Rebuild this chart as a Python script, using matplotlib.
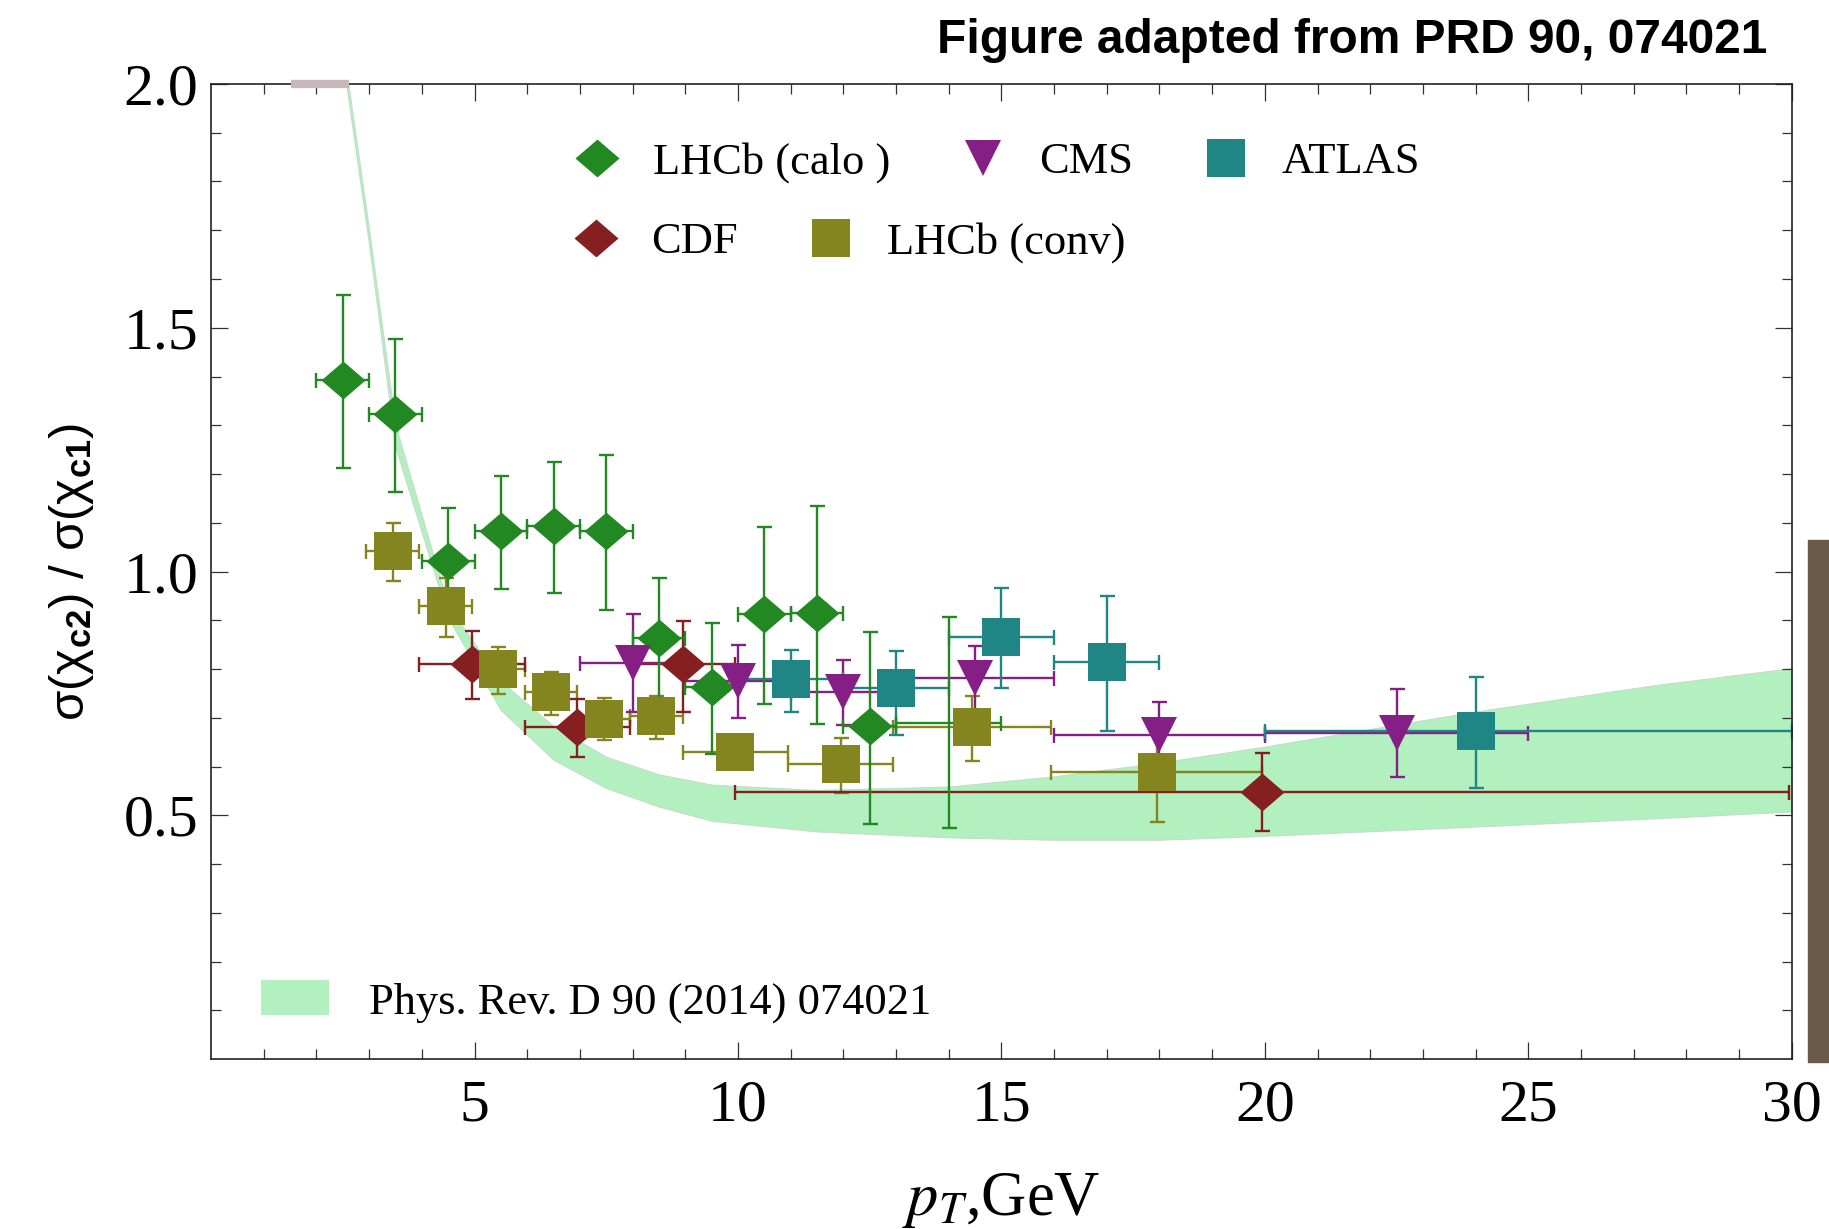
import matplotlib
matplotlib.use("Agg")
import matplotlib.pyplot as plt
import numpy as np
from matplotlib.lines import Line2D
from matplotlib.patches import Patch, Rectangle

plt.rcParams["font.family"] = ["Liberation Serif", "DejaVu Serif"]
plt.rcParams["mathtext.rm"] = "Liberation Sans"
plt.rcParams["mathtext.bf"] = "Liberation Sans:bold"
plt.rcParams["mathtext.it"] = "Liberation Sans:italic"

# LHCb (calo) - bins de 1 GeV
calo_x = [2.5, 3.5, 4.5, 5.5, 6.5, 7.5, 8.5, 9.5, 10.5, 11.5, 12.5]
calo_y = [1.393, 1.323, 1.022, 1.083, 1.094, 1.083, 0.863, 0.764, 0.913, 0.914, 0.683]
calo_ylo = [1.213, 1.164, 0.915, 0.964, 0.957, 0.921, 0.738, 0.625, 0.728, 0.687, 0.483]
calo_yhi = [1.568, 1.477, 1.130, 1.196, 1.224, 1.240, 0.987, 0.895, 1.092, 1.134, 0.877]
calo_xlo = [2.0, 3.0, 4.0, 5.0, 6.0, 7.0, 8.0, 9.0, 10.0, 11.0, 12.0]
calo_xhi = [3.0, 4.0, 5.0, 6.0, 7.0, 8.0, 9.0, 10.0, 11.0, 12.0, 13.0]
# le point 13-15 n'a pas de marqueur dans la figure
calo_hidden_x = [14.0]
calo_hidden_y = [0.690]
calo_hidden_ylo = [0.474]
calo_hidden_yhi = [0.906]
calo_hidden_xlo = [13.0]
calo_hidden_xhi = [15.0]

# CDF
cdf_x = [4.95, 6.95, 8.95, 19.95]
cdf_y = [0.811, 0.682, 0.810, 0.548]
cdf_ylo = [0.739, 0.620, 0.712, 0.468]
cdf_yhi = [0.878, 0.739, 0.899, 0.627]
cdf_xlo = [3.95, 5.95, 7.95, 9.95]
cdf_xhi = [5.95, 7.95, 9.95, 29.95]

# LHCb (conv)
conv_x = [3.45, 4.45, 5.45, 6.45, 7.45, 8.45, 9.95, 11.95, 14.45, 17.95]
conv_y = [1.043, 0.930, 0.801, 0.752, 0.698, 0.704, 0.630, 0.606, 0.681, 0.588]
conv_ylo = [0.980, 0.866, 0.749, 0.705, 0.655, 0.657, 0.600, 0.545, 0.611, 0.487]
conv_yhi = [1.100, 0.986, 0.845, 0.793, 0.741, 0.745, 0.660, 0.659, 0.745, 0.679]
conv_xlo = [2.95, 3.95, 4.95, 5.95, 6.95, 7.95, 8.95, 10.95, 12.95, 15.95]
conv_xhi = [3.95, 4.95, 5.95, 6.95, 7.95, 8.95, 10.95, 12.95, 15.95, 19.95]

# CMS
cms_x = [8.0, 10.0, 12.0, 14.5, 18.0, 22.5]
cms_y = [0.812, 0.775, 0.752, 0.781, 0.665, 0.668]
cms_ylo = [0.711, 0.699, 0.685, 0.715, 0.600, 0.578]
cms_yhi = [0.912, 0.849, 0.819, 0.847, 0.732, 0.759]
cms_xlo = [7.0, 9.0, 11.0, 13.0, 16.0, 20.0]
cms_xhi = [9.0, 11.0, 13.0, 16.0, 20.0, 25.0]

# ATLAS
atlas_x = [11.0, 13.0, 15.0, 17.0, 24.0]
atlas_y = [0.780, 0.762, 0.866, 0.815, 0.673]
atlas_ylo = [0.711, 0.665, 0.761, 0.672, 0.556]
atlas_yhi = [0.839, 0.838, 0.967, 0.950, 0.784]
atlas_xlo = [10.0, 12.0, 14.0, 16.0, 20.0]
atlas_xhi = [12.0, 14.0, 16.0, 18.0, 30.0]

# bande theorique PRD 90, 074021
band_x = [2.5, 3.0, 3.5, 4.5, 5.5, 6.5, 7.5, 8.5, 9.5, 11.5, 14.0, 16.0, 18.0, 20.0, 24.0, 27.4, 30.0]
band_lo = [2.05, 1.67, 1.255, 0.905, 0.716, 0.614, 0.556, 0.518, 0.489, 0.467, 0.455, 0.450, 0.450, 0.458, 0.477, 0.494, 0.508]
band_hi = [2.08, 1.70, 1.300, 0.930, 0.775, 0.683, 0.620, 0.584, 0.563, 0.552, 0.559, 0.580, 0.608, 0.641, 0.713, 0.767, 0.802]

# petite tache grise en haut (artefact de la figure d'origine)
smudge_x = [1.51, 2.62]
smudge_y = [2.0, 2.0]

C_CALO = "#228822"
C_CDF = "#861f1f"
C_CONV = "#85851f"
C_CMS = "#851f85"
C_ATLAS = "#1f8585"
C_BAND = "#b3f0c0"

DIAMOND = [(0, 0.86), (1.0, 0), (0, -0.86), (-1.0, 0), (0, 0.86)]
MS_D = 31.7
MS_S = 27.0
MS_V = 26.6

fig = plt.figure(figsize=(18.29, 12.29), dpi=100)
ax = fig.add_axes([0.1154, 0.1382, 0.8642, 0.7935])

ax.fill_between(band_x, band_lo, band_hi, facecolor=C_BAND, edgecolor="#c4dcc8",
                linewidth=0.8, zorder=1)
ax.plot(smudge_x, smudge_y, color="#c9b8b9", lw=6, solid_capstyle="butt",
        clip_on=False, zorder=4)


def errs(x, y, xlo, xhi, ylo, yhi):
    x = np.array(x)
    y = np.array(y)
    xe = [x - np.array(xlo), np.array(xhi) - x]
    ye = [y - np.array(ylo), np.array(yhi) - y]
    return xe, ye


eb = dict(fmt="none", elinewidth=1.7, capsize=5.4, capthick=1.7, zorder=2)

series = [
    (conv_x, conv_y, conv_xlo, conv_xhi, conv_ylo, conv_yhi, C_CONV),
    (cdf_x, cdf_y, cdf_xlo, cdf_xhi, cdf_ylo, cdf_yhi, C_CDF),
    (cms_x, cms_y, cms_xlo, cms_xhi, cms_ylo, cms_yhi, C_CMS),
    (atlas_x, atlas_y, atlas_xlo, atlas_xhi, atlas_ylo, atlas_yhi, C_ATLAS),
    (calo_x, calo_y, calo_xlo, calo_xhi, calo_ylo, calo_yhi, C_CALO),
    (calo_hidden_x, calo_hidden_y, calo_hidden_xlo, calo_hidden_xhi,
     calo_hidden_ylo, calo_hidden_yhi, C_CALO),
]
for sx, sy, sxlo, sxhi, sylo, syhi, col in series:
    xe, ye = errs(sx, sy, sxlo, sxhi, sylo, syhi)
    ax.errorbar(sx, sy, xerr=xe, yerr=ye, ecolor=col, **eb)

# marqueurs par-dessus toutes les barres d'erreur
ax.plot(calo_x, calo_y, ls="none", marker=DIAMOND, ms=MS_D, color=C_CALO, mew=0, zorder=3)
ax.plot(cms_x, cms_y, ls="none", marker="v", ms=MS_V, color=C_CMS, mew=0, zorder=3)
ax.plot(atlas_x, atlas_y, ls="none", marker="s", ms=MS_S, color=C_ATLAS, mew=0, zorder=3)
ax.plot(cdf_x, cdf_y, ls="none", marker=DIAMOND, ms=MS_D, color=C_CDF, mew=0, zorder=3)
ax.plot(conv_x, conv_y, ls="none", marker="s", ms=MS_S, color=C_CONV, mew=0, zorder=3)

ax.set_xlim(0, 30)
ax.set_ylim(0, 2.0)
ax.set_xticks([5, 10, 15, 20, 25, 30])
ax.set_xticks(np.arange(1, 30), minor=True)
ax.set_yticks([0.5, 1.0, 1.5, 2.0])
ax.set_yticks(np.arange(0.1, 2.0, 0.1), minor=True)
ax.set_yticklabels(["0.5", "1.0", "1.5", "2.0"])
ax.tick_params(which="both", direction="in", top=True, right=True,
               width=0.9, color="#333333", labelsize=43)
ax.tick_params(which="major", length=12.5)
ax.tick_params(which="minor", length=7)
ax.tick_params(axis="x", pad=15)
ax.tick_params(axis="y", pad=9)
for s in ax.spines.values():
    s.set_linewidth(1.2)
    s.set_color("#222222")

ax.set_xlabel(r"$p_T$,GeV", fontsize=45, math_fontfamily="stix")
ax.xaxis.set_label_coords(0.5, -0.1145)
ax.set_ylabel(r"$\mathrm{σ(χ}_{\mathbf{c2}}\mathrm{)\ /\ σ(χ}_{\mathbf{c1}}\mathrm{)}$",
              fontsize=35.5, math_fontfamily="custom")
ax.yaxis.set_label_coords(-0.073, 0.5)

# legende en deux lignes
lp = dict(frameon=False, fontsize=32, handlelength=1.0, handletextpad=0.75,
          columnspacing=1.6, borderpad=0, borderaxespad=0, loc="center left")
h_calo = Line2D([], [], ls="none", marker=DIAMOND, ms=MS_D, color=C_CALO, mew=0)
h_cms = Line2D([], [], ls="none", marker="v", ms=MS_V, color=C_CMS, mew=0)
h_atlas = Line2D([], [], ls="none", marker="s", ms=MS_S, color=C_ATLAS, mew=0)
h_cdf = Line2D([], [], ls="none", marker=DIAMOND, ms=MS_D, color=C_CDF, mew=0)
h_conv = Line2D([], [], ls="none", marker="s", ms=MS_S, color=C_CONV, mew=0)
leg1 = ax.legend([h_calo, h_cms, h_atlas], ["LHCb (calo )", "CMS", "ATLAS"],
                 ncol=3, bbox_to_anchor=(0.2301, 0.9195), **lp)
ax.add_artist(leg1)
leg2 = ax.legend([h_cdf, h_conv], ["CDF", "LHCb (conv)"],
                 ncol=2, bbox_to_anchor=(0.2294, 0.8375), **lp)
ax.add_artist(leg2)
ax.legend([Patch(facecolor=C_BAND, edgecolor="none")], ["Phys. Rev. D 90 (2014) 074021"],
          frameon=False, fontsize=32, handlelength=1.53, handleheight=0.83,
          handletextpad=0.9, borderpad=0, borderaxespad=0, loc="center left",
          bbox_to_anchor=(0.0316, 0.0592))

fig.text(0.9661, 0.9569, "Figure adapted from PRD 90, 074021", ha="right",
         va="baseline", fontsize=34.5, fontweight="bold", family="Liberation Sans")

# bande brune sur le bord droit (photo coupee dans l'original)
fig.patches.append(Rectangle((1808 / 1829, 1 - 1062 / 1229), 21 / 1829, 522 / 1229,
                             transform=fig.transFigure, color="#6b5a4a", zorder=0))

fig.savefig("out.png", dpi=100, facecolor="white")
